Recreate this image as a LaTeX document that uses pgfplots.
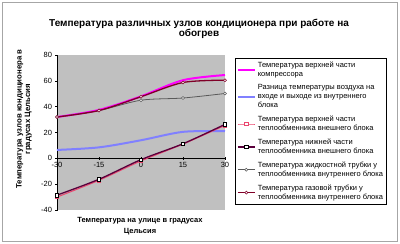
\documentclass[border=0pt]{standalone}
\usepackage{pgfplots}
\pgfplotsset{compat=1.18}
\usepackage{fontspec}
\setmainfont{Liberation Sans}
\definecolor{plotbg}{RGB}{192,192,192}
\definecolor{cmag}{RGB}{255,0,255}
\definecolor{cblue}{RGB}{128,128,255}
\definecolor{cred}{RGB}{235,70,110}
\definecolor{cpurp}{RGB}{90,0,60}
\definecolor{cgray}{RGB}{90,90,90}
\definecolor{cgas}{RGB}{128,0,40}
\begin{document}
\begin{tikzpicture}[x=1pt,y=1pt]
\path[use as bounding box] (0,0) rectangle (400,244);
\draw[gray!70, line width=1pt] (2.5,2.5) rectangle (397.5,241.5);
\node[font=\bfseries\fontsize{10}{10.5}\selectfont, align=center] at (199,215) {Температура различных узлов кондиционера при работе на\\обогрев};
\node[font=\bfseries\fontsize{7.8}{8.5}\selectfont, align=center, rotate=90] at (24,125) {Температура узлов кондиционера в\\градусах Цельсия};
\node[font=\bfseries\fontsize{7.5}{11}\selectfont, align=center] at (140,18) {Температура на улице в градусах\\Цельсия};
\begin{axis}[at={(57pt,34pt)}, anchor=south west, scale only axis,
  width=168pt, height=155pt,
  xmin=-30, xmax=30, ymin=-40, ymax=80,
  xtick={-30,-15,0,15,30}, ytick={-40,-20,...,80},
  axis x line=middle, axis y line=left,
  hide obscured x ticks=false, hide obscured y ticks=false,
  axis line style={-, black, line width=0.6pt},
  axis background/.style={fill=plotbg},
  tick style={black, line width=0.6pt}, major tick length=3pt,
  ticklabel style={font=\fontsize{7.5}{8}\selectfont},
  xticklabel style={yshift=1pt},
  /pgf/number format/assume math mode=true,
  clip=false,
  legend style={at={(1.06,0.981)}, anchor=north west, draw=black, fill=white,
    font=\fontsize{7.5}{9}\selectfont, cells={anchor=north west, align=left},
    row sep=2.8pt, inner sep=1.5pt},
  legend cell align=left,
]
\addplot[cmag, line width=2pt, smooth] coordinates {(-30,32)(-15,37.5)(0,48)(15,60.5)(30,64.5)};
\addlegendentry{Температура верхней части\\компрессора}
\addplot[cblue, line width=2pt, smooth] coordinates {(-30,6.5)(-15,8.5)(0,14)(15,20.5)(30,21)};
\addlegendentry{Разница температуры воздуха на\\входе и выходе из внутреннего\\блока}
\addplot[cred, line width=1pt, smooth, mark=square*, mark size=1.6pt, mark options={fill=white, draw=cred, line width=0.6pt}] coordinates {(-30,-30)(-15,-17)(0,-2)(15,11)(30,25.5)};
\addlegendentry{Температура верхней части\\теплообменника внешнего блока}
\addplot[cpurp, line width=1.3pt, smooth, mark=square*, mark size=1.8pt, mark options={fill=white, draw=black, line width=0.6pt}] coordinates {(-30,-28.5)(-15,-16.2)(0,-1)(15,11.3)(30,26.3)};
\addlegendentry{Температура нижней части\\теплообменника внешнего блока}
\addplot[cgray, line width=0.8pt, smooth, mark=*, mark size=1.5pt, mark options={fill=white, draw=cgray, line width=0.5pt}] coordinates {(-30,32)(-15,37)(0,45)(15,46.7)(30,50.2)};
\addlegendentry{Температура жидкостной трубки у\\теплообменника внутреннего блока}
\addplot[cgas, line width=1.3pt, smooth, mark=*, mark size=1.5pt, mark options={fill=white, draw=cgas, line width=0.5pt}] coordinates {(-30,32)(-15,37)(0,47.7)(15,58.7)(30,60.5)};
\addlegendentry{Температура газовой трубки у\\теплообменника внутреннего блока}
\end{axis}
\end{tikzpicture}
\end{document}
